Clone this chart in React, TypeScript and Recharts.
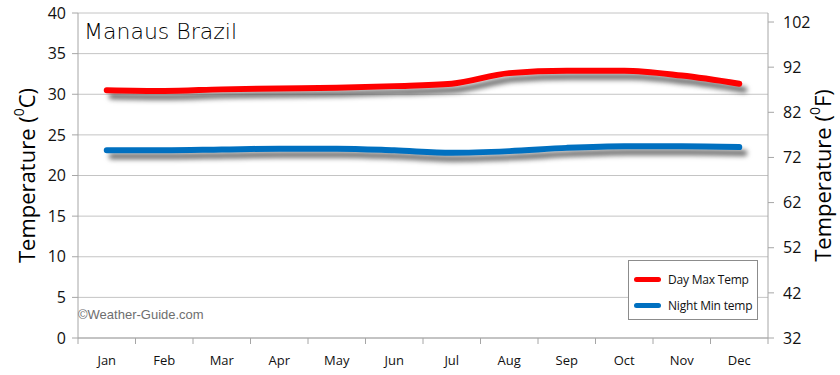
import React from "react";
import { LineChart, Line, XAxis, YAxis, CartesianGrid } from "recharts";

const months = ["Jan", "Feb", "Mar", "Apr", "May", "Jun", "Jul", "Aug", "Sep", "Oct", "Nov", "Dec"];
const dayMax = [30.5, 30.4, 30.6, 30.7, 30.8, 31.0, 31.3, 32.6, 32.9, 32.9, 32.3, 31.3];
const nightMin = [23.1, 23.1, 23.2, 23.3, 23.3, 23.1, 22.8, 23.0, 23.4, 23.6, 23.6, 23.5];
const celsiusTicks = [0, 5, 10, 15, 20, 25, 30, 35, 40];
const fahrenheitTicks = [32, 42, 52, 62, 72, 82, 92, 102];

const toF = (c: number) => (c * 9) / 5 + 32;

const data = months.map((m, i) => ({
  month: m,
  dayMax: dayMax[i],
  nightMin: nightMin[i],
  dayMaxF: toF(dayMax[i]),
}));

const W = 840;
const H = 375;
const PLOT_LEFT = 78;
const PLOT_RIGHT = 768;
const PLOT_TOP = 13;
const PLOT_BOTTOM = 338;
const band = (PLOT_RIGHT - PLOT_LEFT) / months.length;

const tickFont = "'Open Sans', 'DejaVu Sans', sans-serif";
const axisColor = "#a6a6a6";

function MonthTick(props: any) {
  const { x, payload, index } = props;
  return (
    <g>
      <line x1={x - band / 2} y1={PLOT_BOTTOM} x2={x - band / 2} y2={PLOT_BOTTOM + 6} stroke={axisColor} />
      {index === months.length - 1 && (
        <line x1={x + band / 2} y1={PLOT_BOTTOM} x2={x + band / 2} y2={PLOT_BOTTOM + 6} stroke={axisColor} />
      )}
      <text x={x} y={PLOT_BOTTOM + 27} textAnchor="middle" fontSize={13} fill="#111" fontFamily={tickFont}>
        {payload.value}
      </text>
    </g>
  );
}

function AxisTitle({ cx, unit }: { cx: number; unit: string }) {
  const cy = (PLOT_TOP + PLOT_BOTTOM) / 2;
  return (
    <text
      x={cx}
      y={cy}
      transform={`rotate(-90 ${cx} ${cy})`}
      textAnchor="middle"
      dominantBaseline="central"
      fontSize={22}
      fill="#000"
      fontFamily={tickFont}
    >
      Temperature{"  "}(<tspan dy={-8} fontSize={14}>0</tspan>
      <tspan dy={8}>{unit})</tspan>
    </text>
  );
}

function LegendBox() {
  const rows = [
    { label: "Day Max Temp", color: "#ff0000" },
    { label: "Night Min temp", color: "#0070c0" },
  ];
  return (
    <div
      style={{
        position: "absolute",
        left: 628,
        top: 260,
        width: 130,
        height: 60,
        border: "1px solid #8c8c8c",
        background: "#fff",
        boxSizing: "border-box",
        padding: "5px 0 0 5px",
      }}
    >
      {rows.map((r) => (
        <div key={r.label} style={{ display: "flex", alignItems: "center", height: 26 }}>
          <span
            style={{
              display: "inline-block",
              width: 27,
              height: 5,
              borderRadius: 3,
              background: r.color,
              marginRight: 7,
            }}
          />
          <span style={{ fontSize: 12, fontFamily: tickFont, color: "#111", letterSpacing: -0.2 }}>{r.label}</span>
        </div>
      ))}
    </div>
  );
}

export default function App() {
  return (
    <div style={{ position: "absolute", left: 0, top: 0, width: W, height: H, background: "#fff" }}>
      <style>{`.shadowed .recharts-line-curve { filter: drop-shadow(5px 6px 2.5px rgba(60,60,60,0.75)); }`}</style>
      <LineChart width={W} height={H} data={data} margin={{ top: PLOT_TOP, right: 0, left: 0, bottom: 0 }}>
        <CartesianGrid vertical={false} stroke="#c4c4c4" yAxisId="c" />
        <XAxis
          dataKey="month"
          scale="band"
          height={H - PLOT_BOTTOM}
          stroke={axisColor}
          tickLine={false}
          tick={<MonthTick />}
          interval={0}
        />
        <YAxis
          yAxisId="c"
          width={PLOT_LEFT}
          domain={[0, 40]}
          ticks={celsiusTicks}
          stroke={axisColor}
          tickSize={6}
          tickMargin={6}
          tick={{ fontSize: 16, fill: "#111", fontFamily: tickFont }}
          label={{ content: () => <AxisTitle cx={26} unit="C" /> }}
        />
        <YAxis
          yAxisId="f"
          orientation="right"
          width={W - PLOT_RIGHT}
          domain={[32, 104]}
          ticks={fahrenheitTicks}
          stroke={axisColor}
          tickSize={6}
          tickMargin={9}
          tick={{ fontSize: 16, fill: "#111", fontFamily: tickFont }}
          label={{ content: () => <AxisTitle cx={822} unit="F" /> }}
        />
        <Line
          yAxisId="f"
          type="monotone"
          dataKey="dayMaxF"
          stroke="none"
          dot={false}
          activeDot={false}
          isAnimationActive={false}
        />
        <Line
          className="shadowed"
          yAxisId="c"
          type="monotone"
          dataKey="dayMax"
          stroke="#ff0000"
          strokeWidth={6}
          strokeLinecap="round"
          dot={false}
          activeDot={false}
          isAnimationActive={false}
        />
        <Line
          className="shadowed"
          yAxisId="c"
          type="monotone"
          dataKey="nightMin"
          stroke="#0070c0"
          strokeWidth={6}
          strokeLinecap="round"
          dot={false}
          activeDot={false}
          isAnimationActive={false}
        />
      </LineChart>
      <LegendBox />
      <div
        style={{
          position: "absolute",
          left: 84,
          top: 19,
          fontSize: 22,
          fontFamily: "'DejaVu Sans', sans-serif",
          fontWeight: 300,
          color: "#000",
        }}
      >
        Manaus Brazil
      </div>
      <div
        style={{
          position: "absolute",
          left: 78,
          top: 307,
          fontSize: 13,
          fontFamily: "'Liberation Sans', Arial, sans-serif",
          color: "#6e6e6e",
        }}
      >
        ©Weather-Guide.com
      </div>
    </div>
  );
}
